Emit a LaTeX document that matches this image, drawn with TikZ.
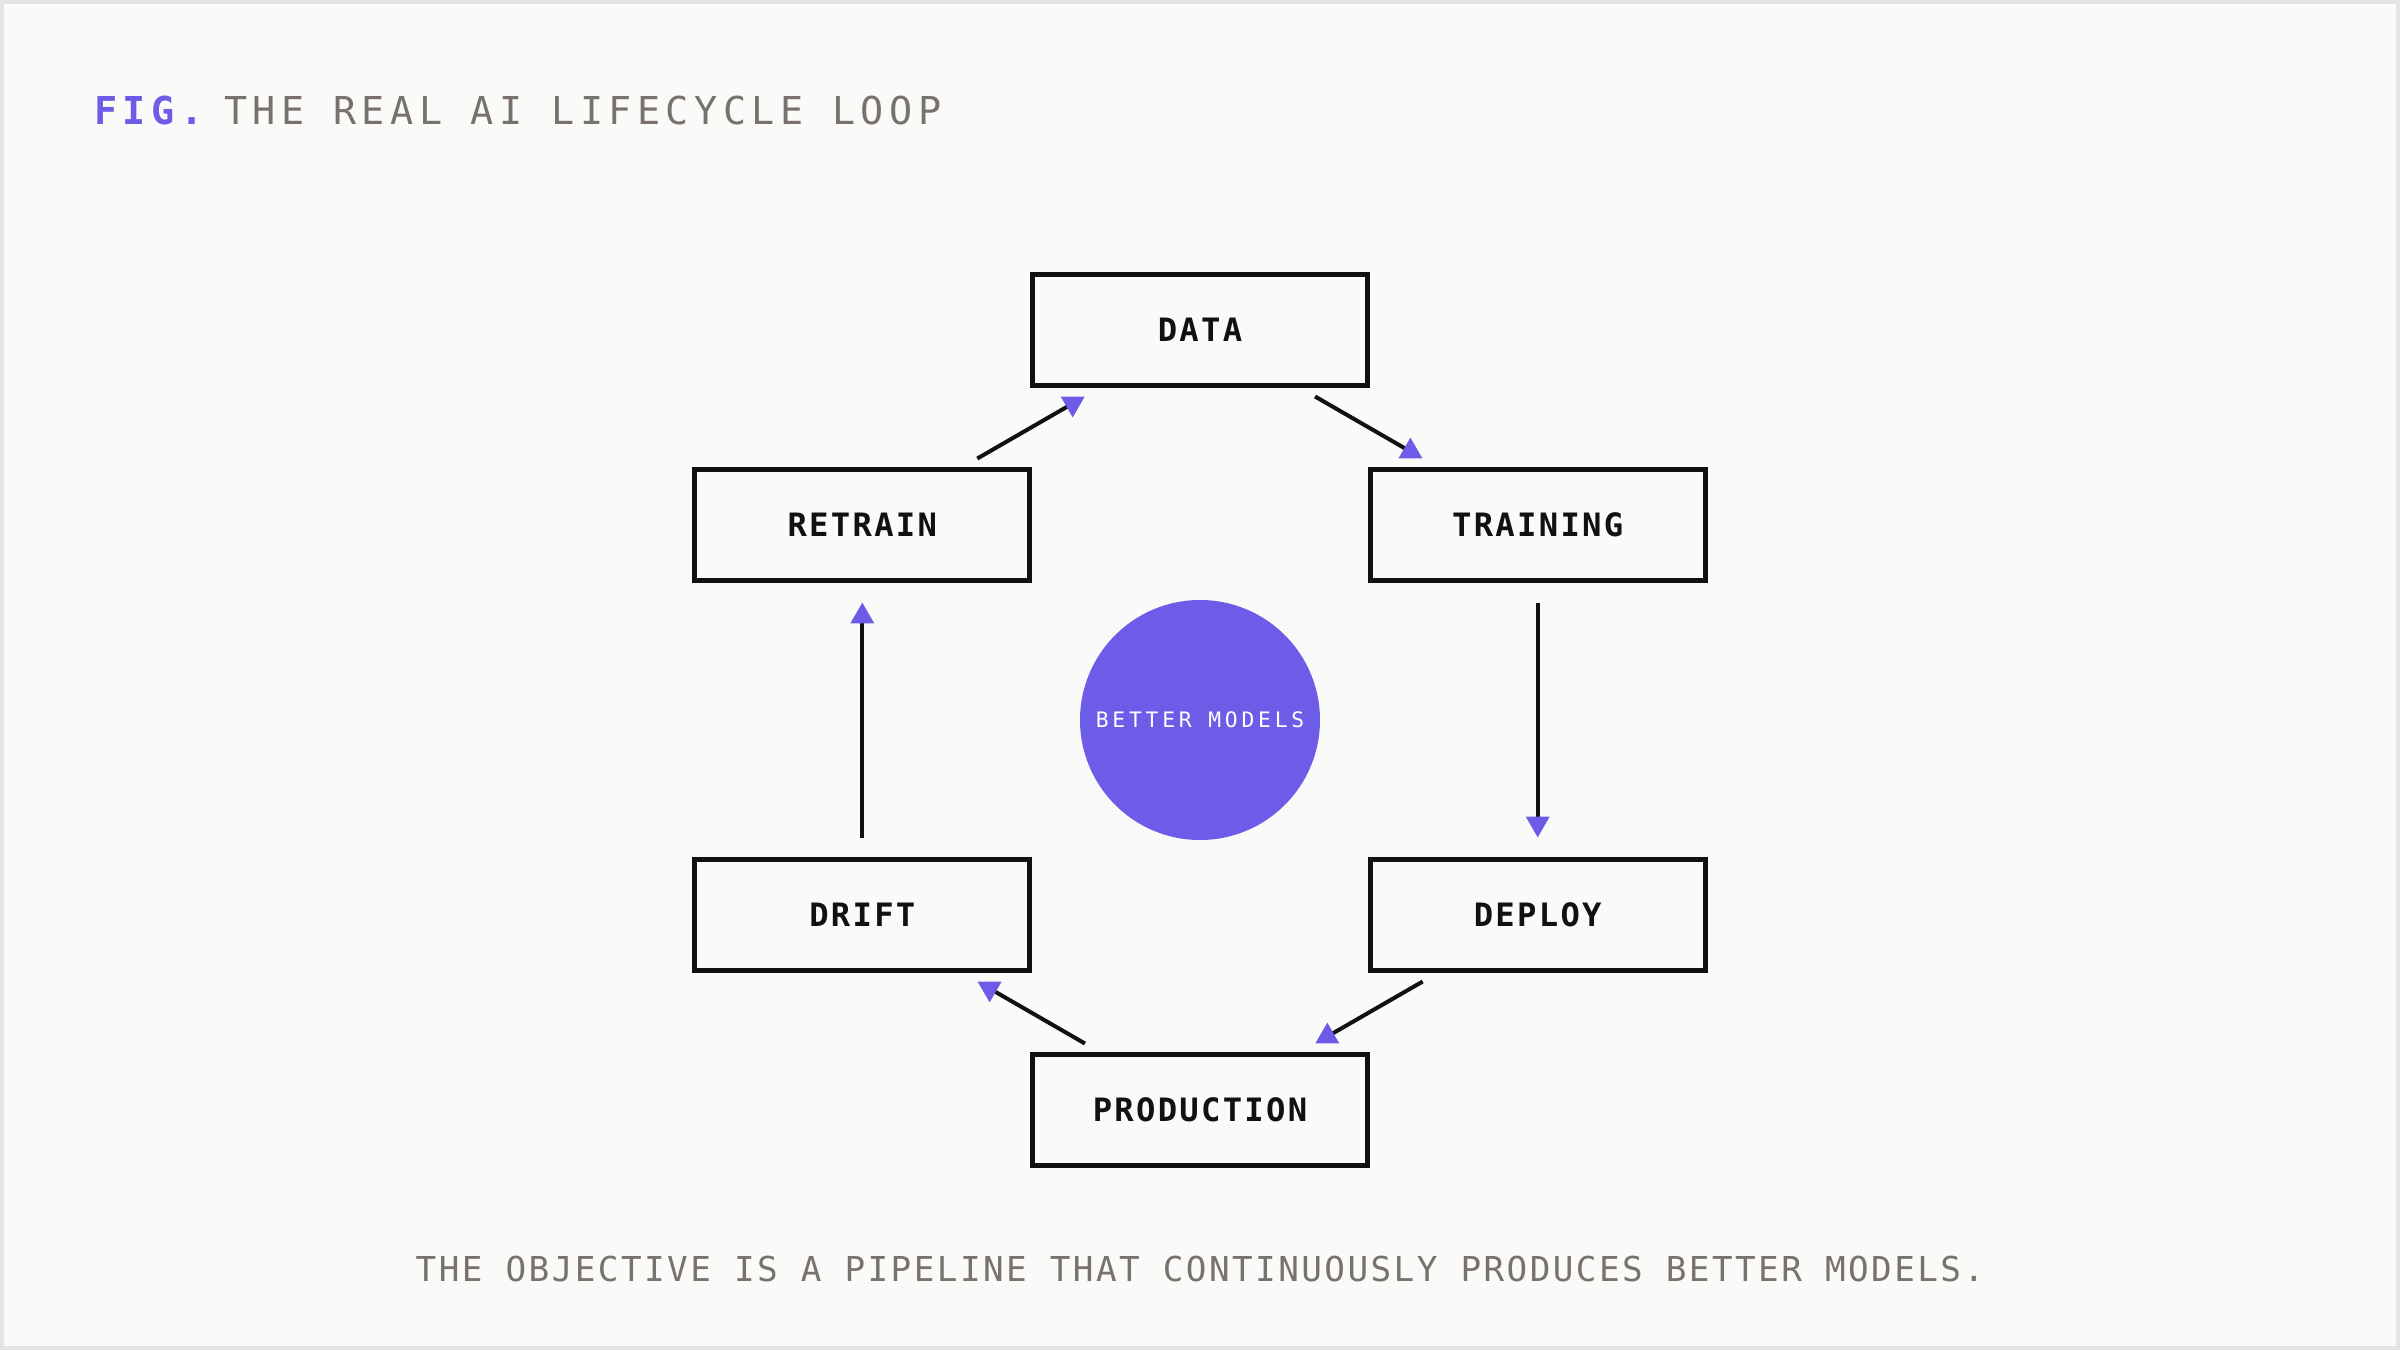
\documentclass[tikz,border=0pt]{standalone}
\usepackage{fontspec}
\usetikzlibrary{calc,shapes.geometric}
\definecolor{bg}{HTML}{FAFAF8}
\definecolor{frame}{HTML}{E5E4E2}
\definecolor{accent}{HTML}{6C5CE7}
\definecolor{ink}{HTML}{111111}
\definecolor{muted}{HTML}{78716C}
\newfontfamily\ttitle[LetterSpace=14.4]{DejaVu Sans Mono}
\newfontfamily\tcap[LetterSpace=7.1]{DejaVu Sans Mono}
\newfontfamily\tlabel[LetterSpace=7.1]{DejaVu Sans Mono}
\newfontfamily\tcirc[LetterSpace=17.8]{DejaVu Sans Mono}
\begin{document}
\begin{tikzpicture}[x=1pt,y=-1pt,
  stagebox/.style={draw=ink, line width=5pt, minimum width=335pt, minimum height=111pt,
    inner sep=0pt, outer sep=0pt, text=ink, font=\tlabel\bfseries\fontsize{32.2}{34}\selectfont},
  conn/.style={draw=ink, line width=4pt},
  triup/.style={regular polygon, regular polygon sides=3, fill=accent, draw=none,
    inner sep=0pt, minimum size=27.7pt},
  tridown/.style={triup, shape border rotate=180},
  heading/.style={anchor=base west, inner sep=0pt, font=\ttitle\fontsize{38.4}{40}\selectfont}]
\useasboundingbox (0,0) rectangle (2400,1350);
\fill[bg] (0,0) rectangle (2400,1350);
\draw[frame, line width=4pt] (2,2) rectangle (2398,1348);

\node[heading, text=accent, font=\ttitle\bfseries\fontsize{38.4}{40}\selectfont] (fig) at (94,124) {FIG.};
\node[heading, text=muted] (title) at (224,124) {THE REAL AI LIFECYCLE LOOP};

\node[stagebox] (data) at (1200,330) {DATA};
\node[stagebox] (training) at (1537.7,525) {TRAINING};
\node[stagebox] (deploy) at (1537.7,915) {DEPLOY};
\node[stagebox] (production) at (1200,1110) {PRODUCTION};
\node[stagebox] (drift) at (862.3,915) {DRIFT};
\node[stagebox] (retrain) at (862.3,525) {RETRAIN};

\node[circle, fill=accent, minimum size=240pt, inner sep=0pt, text=white,
  font=\tcirc\fontsize{21.3}{22}\selectfont] (core) at (1200,720) {BETTER MODELS};

\draw[conn, shorten <=22pt, shorten >=36pt] (data) -- (training);
\node[triup] (t1) at ($(training)!147pt!(data)$) {};
\draw[conn, shorten <=22pt, shorten >=36pt] (training) -- (deploy);
\node[tridown] (t2) at ($(deploy)!91.5pt!(training)$) {};
\draw[conn, shorten <=22pt, shorten >=36pt] (deploy) -- (production);
\node[triup] (t3) at ($(production)!147pt!(deploy)$) {};
\draw[conn, shorten <=22pt, shorten >=36pt] (production) -- (drift);
\node[tridown] (t4) at ($(drift)!147pt!(production)$) {};
\draw[conn, shorten <=22pt, shorten >=36pt] (drift) -- (retrain);
\node[triup] (t5) at ($(retrain)!91.5pt!(drift)$) {};
\draw[conn, shorten <=22pt, shorten >=36pt] (retrain) -- (data);
\node[tridown] (t6) at ($(data)!147pt!(retrain)$) {};

\node[anchor=base, inner sep=0pt, text=muted, font=\tcap\fontsize{34.3}{36}\selectfont]
  (caption) at (1200,1281) {THE OBJECTIVE IS A PIPELINE THAT CONTINUOUSLY PRODUCES BETTER MODELS.};
\end{tikzpicture}
\end{document}
